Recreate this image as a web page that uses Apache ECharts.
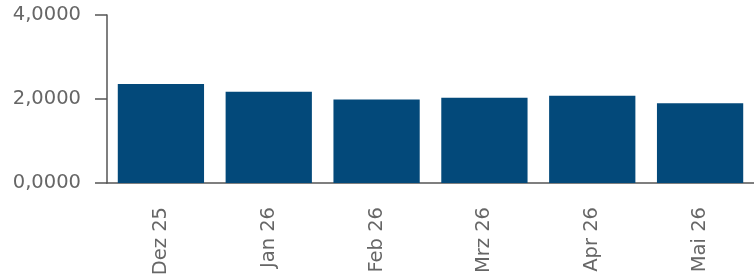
<!DOCTYPE html>
<html>
<head>
<meta charset="utf-8">
<script src="https://cdn.jsdelivr.net/npm/echarts@6/dist/echarts.min.js"></script>
<style>
  html, body { margin: 0; padding: 0; background: #fff; }
  #chart { width: 754px; height: 279px; }
</style>
</head>
<body>
<div id="chart"></div>
<script>
// Monate und Werte
var categories = ['Dez 25', 'Jan 26', 'Feb 26', 'Mrz 26', 'Apr 26', 'Mai 26'];
var values = [2.36, 2.17, 1.99, 2.03, 2.08, 1.90];
var yTicks = [0, 2, 4];

var chart = echarts.init(document.getElementById('chart'));

var axisColor = '#555';
var labelColor = '#666';
var fontFam = '"DejaVu Sans", Verdana, sans-serif';

chart.setOption({
    animation: false,
    grid: { left: 107, right: -1, top: 15, bottom: 96 },
    xAxis: {
        type: 'category',
        data: categories,
        axisLine: { lineStyle: { color: axisColor, width: 1.5 } },
        axisTick: { length: 12, lineStyle: { color: axisColor, width: 1.5 } },
        axisLabel: {
            rotate: 90,
            margin: 24,
            color: labelColor,
            fontSize: 19.5,
            fontFamily: fontFam
        }
    },
    yAxis: {
        type: 'value',
        min: yTicks[0],
        max: yTicks[yTicks.length - 1],
        interval: 2,
        splitLine: { show: false },
        axisLine: { show: true, lineStyle: { color: axisColor, width: 1.5 } },
        axisTick: { show: true, length: 12, lineStyle: { color: axisColor, width: 1.5 } },
        axisLabel: {
            margin: 26,
            color: labelColor,
            fontSize: 19.5,
            fontFamily: fontFam,
            formatter: function(v) {
                return v.toFixed(4).replace('.', ',');
            }
        }
    },
    series: [{
        type: 'bar',
        data: values,
        barCategoryGap: '20%',
        itemStyle: { color: '#03497a' }
    }]
});
</script>
</body>
</html>
